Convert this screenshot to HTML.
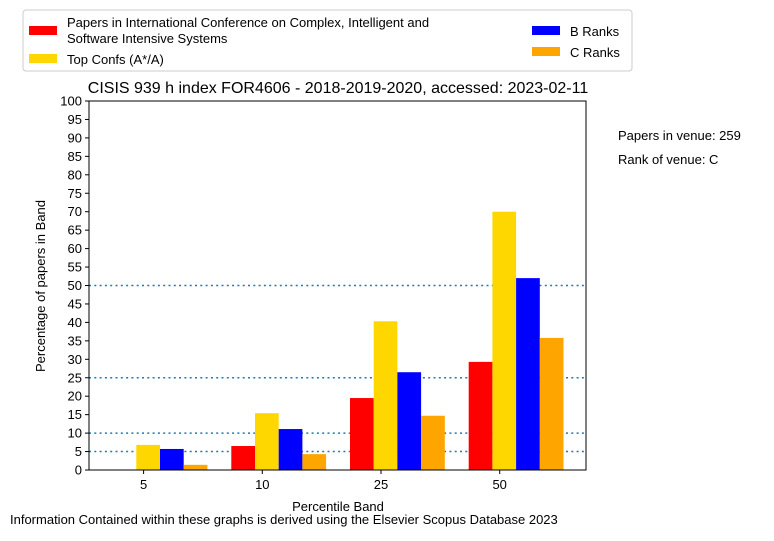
<!DOCTYPE html>
<html><head><meta charset="utf-8"><style>
body{margin:0;background:#fff;font-family:"Liberation Sans","DejaVu Sans",sans-serif;}
</style></head><body>
<svg width="774" height="536" xmlns="http://www.w3.org/2000/svg" font-family="Liberation Sans, DejaVu Sans, sans-serif">
<rect width="774" height="536" fill="#fff"/>
<g id="grid"></g>
<g id="bars"></g>
<rect x="89" y="101" width="497" height="369" fill="none" stroke="#000" stroke-width="1"/>
<g id="yticks"></g>
<g id="xticks"></g>
<text x="338" y="93" text-anchor="middle" font-size="16">CISIS 939 h index FOR4606 - 2018-2019-2020, accessed: 2023-02-11</text>
<text x="338" y="511" text-anchor="middle" font-size="13">Percentile Band</text>
<text transform="translate(45,286) rotate(-90)" text-anchor="middle" font-size="13">Percentage of papers in Band</text>
<text x="10" y="524" font-size="13">Information Contained within these graphs is derived using the Elsevier Scopus Database 2023</text>
<text x="618" y="140" font-size="13">Papers in venue: 259</text>
<text x="618" y="164" font-size="13">Rank of venue: C</text>
<g>
<rect x="23" y="10" width="609" height="61" rx="3" fill="#fff" stroke="#ccc"/>
<rect x="29" y="26" width="28" height="9" fill="#ff0000"/>
<text x="67" y="27" font-size="13">Papers in International Conference on Complex, Intelligent and</text>
<text x="67" y="43" font-size="13">Software Intensive Systems</text>
<rect x="29" y="54" width="28" height="9" fill="#ffd700"/>
<text x="67" y="64" font-size="13">Top Confs (A*/A)</text>
<rect x="532" y="26" width="28" height="9" fill="#0000ff"/>
<text x="570" y="36" font-size="13">B Ranks</text>
<rect x="532" y="47" width="28" height="9" fill="#ffa500"/>
<text x="570" y="57" font-size="13">C Ranks</text>
</g>
</svg>
<script>
const categories=["5","10","25","50"];
const papers=[0,6.5,19.5,29.3];
const topConfs=[6.8,15.4,40.3,70];
const bRanks=[5.7,11.1,26.5,52];
const cRanks=[1.4,4.3,14.7,35.8];
const yTicks=[0,5,10,15,20,25,30,35,40,45,50,55,60,65,70,75,80,85,90,95,100];
const refLines=[5,10,25,50];
const NS="http://www.w3.org/2000/svg";
const y=v=>470-v*3.69;
const groupStart=i=>112.6+118.7*i;
const bw=23.7;
function mk(tag,attrs,parent){const e=document.createElementNS(NS,tag);for(const k in attrs)e.setAttribute(k,attrs[k]);document.getElementById(parent).appendChild(e);return e;}
refLines.forEach(v=>{const l=mk('line',{x1:89,x2:586,y1:y(v),y2:y(v),stroke:'#1f77b4','stroke-width':1.5,'stroke-dasharray':'2,3.3'},'grid');

});
const series=[[papers,'#ff0000','papers'],[topConfs,'#ffd700','top'],[bRanks,'#0000ff','b'],[cRanks,'#ffa500','c']];
categories.forEach((c,i)=>{series.forEach((s,j)=>{const v=s[0][i];const r=mk('rect',{x:groupStart(i)+j*bw,y:y(v),width:bw,height:470-y(v),fill:s[1]},'bars');

});
const tx=groupStart(i)+31;
mk('line',{x1:tx,x2:tx,y1:470,y2:474,stroke:'#000'},'xticks');
const t=mk('text',{x:tx,y:489,'text-anchor':'middle','font-size':13},'xticks');t.textContent=c;

});
yTicks.forEach(v=>{mk('line',{x1:85,x2:89,y1:y(v),y2:y(v),stroke:'#000'},'yticks');
const t=mk('text',{x:82,y:y(v)+4.5,'text-anchor':'end','font-size':13},'yticks');t.textContent=v;

});
</script>
</body></html>
